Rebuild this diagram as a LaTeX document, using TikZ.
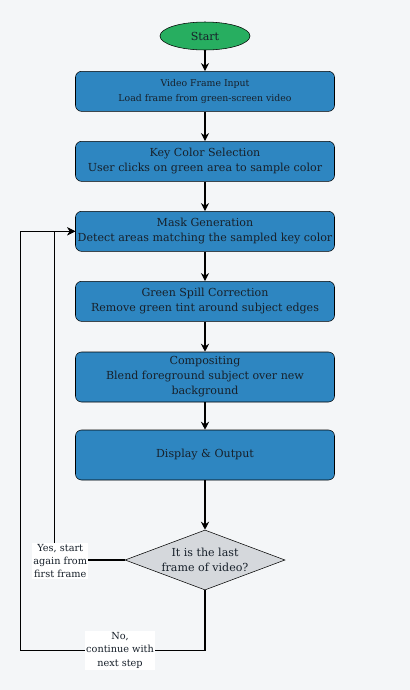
\documentclass[tikz,border=0pt]{standalone}
\usepackage{xcolor}
\usepackage{fontspec}
\setmainfont{DejaVu Serif}
\usepackage{tikz}
\definecolor{pagegray}{HTML}{F4F6F8}
\definecolor{stepblue}{HTML}{2E86C1}
\definecolor{startgreen}{HTML}{27AE60}
\definecolor{decgray}{HTML}{D5D8DC}
\definecolor{inkdark}{HTML}{17202A}
\usetikzlibrary{shapes.geometric, arrows.meta}

\tikzset{
	stepbox/.style = {draw, rounded corners = 4.5pt, fill = stepblue, text = inkdark,
		minimum width = 194.25pt, minimum height = 30pt, align = center, inner sep = 1pt,
		font = \fontsize{8.3}{11.25}\selectfont},
	flowline/.style = {thick, -{Stealth[length = 6pt, width = 6pt]}},
	looptag/.style = {fill = white, align = center, inner sep = 1pt, text = inkdark,
		font = \fontsize{7.3}{10}\selectfont}
}

\begin{document}
\begin{tikzpicture}
			\fill[pagegray] (0,0) rectangle (307.5pt,-517.5pt);
			\useasboundingbox (0,0) rectangle (307.5pt,-517.5pt);
			
			\node[draw, ellipse, fill = startgreen, text = inkdark, minimum width = 67.5pt, minimum height = 21pt, inner sep = 0pt, font = \fontsize{8.3}{10}\selectfont, xshift = 153.75pt, yshift = -27pt] (start){Start};
			\node[stepbox, xshift = 153.75pt, yshift = -68.5pt, font = \fontsize{7}{11.25}\selectfont] (input){Video Frame Input\\Load frame from green-screen video};
			\node[stepbox, xshift = 153.75pt, yshift = -121pt] (keycol){Key Color Selection\\User clicks on green area to sample color};
			\node[stepbox, xshift = 153.75pt, yshift = -173.5pt] (mask){Mask Generation\\Detect areas matching the sampled key color};
			\node[stepbox, xshift = 153.75pt, yshift = -226pt] (spill){Green Spill Correction\\Remove green tint around subject edges};
			\node[stepbox, xshift = 153.75pt, yshift = -282.75pt, minimum height = 37.5pt] (comp){Compositing\\Blend foreground subject over new\\background};
			\node[stepbox, xshift = 153.75pt, yshift = -341.25pt, minimum height = 37.5pt] (disp){Display \& Output};
			\node[draw, diamond, fill = decgray, minimum width = 120pt, minimum height = 45pt, inner sep = 0pt, xshift = 153.75pt, yshift = -420pt,
				label = {[align = center, text = inkdark, font = \fontsize{8.3}{11}\selectfont]center:It is the last\\frame of video?}] (dec){};
			
			\draw[flowline] (start) -- (input);
			\draw[flowline] (input) -- (keycol);
			\draw[flowline] (keycol) -- (mask);
			\draw[flowline] (mask) -- (spill);
			\draw[flowline] (spill) -- (comp);
			\draw[flowline] (comp) -- (disp);
			\draw[flowline] (disp) -- (dec);
			
			% loop back to mask generation
			\draw[flowline] (dec.west) -| node[looptag, xshift = 4.5pt, yshift = -0.75pt] {Yes, start\\again from\\first frame} ([xshift = -15.75pt]mask.west) -- (mask.west);
			\draw[flowline] (dec.south) -- ++(0,-45pt) -| node[looptag, pos = 0.23] {No,\\continue with\\next step} ([xshift = -41.25pt]mask.west) -- (mask.west);
			
			\end{tikzpicture}
\end{document}
